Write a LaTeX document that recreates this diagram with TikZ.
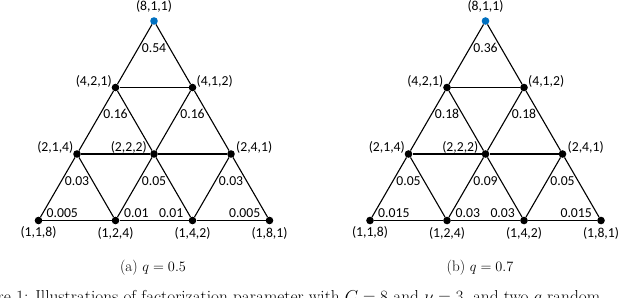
\documentclass[tikz,border=0pt]{standalone}
\usepackage{fontspec}
\newfontfamily\labfont{Carlito}
\definecolor{dotblue}{RGB}{0,112,192}
\tikzset{
  vdot/.style={circle,fill=black,inner sep=0pt,minimum size=7.6bp},
  topdot/.style={vdot,fill=dotblue},
  edge/.style={draw=black,line width=1.1bp},
  vlab/.style={inner sep=0pt,font=\labfont\fontsize{13.7bp}{16bp}\selectfont},
  plab/.style={inner sep=0pt,font=\labfont\fontsize{13.7bp}{16bp}\selectfont},
  subcap/.style={inner sep=0pt,font=\fontsize{15.2bp}{18bp}\selectfont},
  figcapstyle/.style={inner sep=0pt,font=\fontsize{17.3bp}{20bp}\selectfont},
}
\begin{document}
\begin{tikzpicture}[x=1bp,y=-1bp]
\useasboundingbox (0,0) rectangle (640,297);
\foreach \p/\sx/\la/\lb/\lc/\ld/\le/\lf in {L/0/0.54/0.16/0.03/0.05/0.005/0.01, R/331.5/0.36/0.18/0.05/0.09/0.015/0.03}{
\begin{scope}[xshift=\sx bp]
  % vertices
  \node[topdot] (\p T) at (154,21) {};
  \node[vdot] (\p A) at (115.5,87.5) {};
  \node[vdot] (\p B) at (192.5,87.5) {};
  \node[vdot] (\p C) at (77,154) {};
  \node[vdot] (\p D) at (154,154) {};
  \node[vdot] (\p E) at (231,154) {};
  \node[vdot] (\p F) at (38.5,220.5) {};
  \node[vdot] (\p G) at (115.5,220.5) {};
  \node[vdot] (\p H) at (192.5,220.5) {};
  \node[vdot] (\p I) at (269.5,220.5) {};
  % edges
  \draw[edge] (\p T) -- (\p A);
  \draw[edge] (\p T) -- (\p B);
  \draw[edge] (\p A) -- (\p B);
  \draw[edge] (\p A) -- (\p C);
  \draw[edge] (\p A) -- (\p D);
  \draw[edge] (\p B) -- (\p D);
  \draw[edge] (\p B) -- (\p E);
  \draw[edge] (\p C) -- (\p D);
  \draw[edge] (\p D) -- (\p E);
  \draw[edge] (\p C) -- (\p F);
  \draw[edge] (\p C) -- (\p G);
  \draw[edge] (\p D) -- (\p G);
  \draw[edge] (\p D) -- (\p H);
  \draw[edge] (\p E) -- (\p H);
  \draw[edge] (\p E) -- (\p I);
  \draw[edge] (\p F) -- (\p G);
  \draw[edge] (\p G) -- (\p H);
  \draw[edge] (\p H) -- (\p I);
  % vertex labels
  \node[vlab] (\p tT) at (154,6.5) {(8,1,1)};
  \node[vlab,anchor=east] (\p tA) at (112,81.5) {(4,2,1)};
  \node[vlab,anchor=west] (\p tB) at (196.5,81.5) {(4,1,2)};
  \node[vlab,anchor=east] (\p tC) at (73.5,147.5) {(2,1,4)};
  \node[vlab,anchor=east] (\p tD) at (147,147.5) {(2,2,2)};
  \node[vlab,anchor=west] (\p tE) at (236,147.5) {(2,4,1)};
  \node[vlab] (\p tF) at (38.5,232) {(1,1,8)};
  \node[vlab] (\p tG) at (115.5,233) {(1,2,4)};
  \node[vlab] (\p tH) at (192.5,233.5) {(1,4,2)};
  \node[vlab] (\p tI) at (269.5,233) {(1,8,1)};
  % parameter labels
  \node[plab] (\p pT) at (154,47.7) {\la};
  \node[plab] (\p pA) at (115.5,114) {\lb};
  \node[plab] (\p pB) at (192.5,114) {\lb};
  \node[plab] (\p pC) at (77,181.5) {\lc};
  \node[plab] (\p pD) at (154,181.5) {\ld};
  \node[plab] (\p pE) at (231,181.5) {\lc};
  \node[plab,anchor=base west] (\p pF) at (46.5,217.5) {\le};
  \node[plab,anchor=base west] (\p pG) at (124,217.5) {\lf};
  \node[plab,anchor=base east] (\p pH) at (183.5,217.5) {\lf};
  \node[plab,anchor=base east] (\p pI) at (260.5,217.5) {\le};
\end{scope}
}
\node[subcap] (capa) at (153,267.5) {(a) $q=0.5$};
\node[subcap] (capb) at (480,267.5) {(b) $q=0.7$};
\node[figcapstyle,anchor=base west] (figcap) at (-34,302.5) {Figure 1: Illustrations of factorization parameter with $C=8$ and $\nu=3$, and two $q$ random};
\end{tikzpicture}
\end{document}
